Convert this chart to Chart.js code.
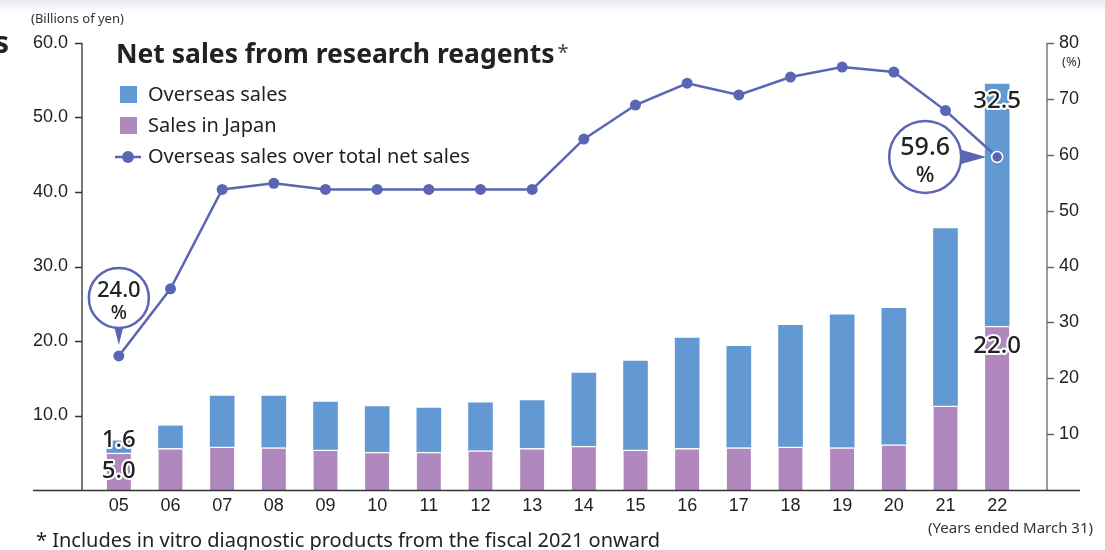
<!DOCTYPE html>
<html>
<head>
<meta charset="utf-8">
<title>Net sales from research reagents</title>
<script src="https://cdn.jsdelivr.net/npm/chart.js@4.4.0/dist/chart.umd.min.js"></script>
<style>
html, body { margin: 0; padding: 0; }
body { width: 1105px; height: 550px; overflow: hidden; background: linear-gradient(#ebebf3 0px, #ffffff 14px); }
canvas { display: block; }
</style>
</head>
<body>
<canvas id="salesChart" width="1105" height="550"></canvas>
<script>
// Fiscal years (years ended March 31)
const years = ['05', '06', '07', '08', '09', '10', '11', '12', '13', '14', '15', '16', '17', '18', '19', '20', '21', '22'];

// Billions of yen
const overseasSales = [1.6, 3.0, 6.8, 6.9, 6.4, 6.1, 5.9, 6.4, 6.4, 9.8, 11.9, 14.8, 13.6, 16.3, 17.8, 18.3, 23.8, 32.5];
const japanSales = [5.0, 5.6, 5.8, 5.7, 5.4, 5.1, 5.1, 5.3, 5.6, 5.9, 5.4, 5.6, 5.7, 5.8, 5.7, 6.1, 11.3, 22.0];

// Overseas share of net sales (%)
const overseasRatio = [24.0, 36.0, 53.8, 54.9, 53.8, 53.8, 53.8, 53.8, 53.8, 62.8, 68.9, 72.8, 70.7, 73.9, 75.7, 74.8, 67.9, 59.6];

const leftTicks = [0, 10, 20, 30, 40, 50, 60];
const rightTicks = [0, 10, 20, 30, 40, 50, 60, 70, 80];

const BLUE = '#6399d2';
const PURPLE = '#b088bd';
const LINE = '#5a66b4';
const INK = '#222222';
const FONT = '"Noto Sans", "Noto Sans CJK JP", sans-serif';

const last = years.length - 1;

function haloText(ctx, text, x, y) {
    ctx.lineJoin = 'round';
    ctx.strokeStyle = '#ffffff';
    ctx.lineWidth = 4;
    ctx.strokeText(text, x, y);
    ctx.fillStyle = INK;
    ctx.fillText(text, x, y);
}

// Round balloon with a triangular pointer aimed at (tipX, tipY)
function balloon(ctx, cx, cy, r, tipX, tipY, value, big, small, spread) {
    const ang = Math.atan2(tipY - cy, tipX - cx);
    ctx.fillStyle = LINE;
    ctx.beginPath();
    ctx.moveTo(cx + Math.cos(ang - spread) * (r - 1), cy + Math.sin(ang - spread) * (r - 1));
    ctx.lineTo(tipX, tipY);
    ctx.lineTo(cx + Math.cos(ang + spread) * (r - 1), cy + Math.sin(ang + spread) * (r - 1));
    ctx.closePath();
    ctx.fill();
    ctx.beginPath();
    ctx.arc(cx, cy, r, 0, Math.PI * 2);
    ctx.fillStyle = '#ffffff';
    ctx.fill();
    ctx.lineWidth = 2.5;
    ctx.strokeStyle = LINE;
    ctx.stroke();
    ctx.fillStyle = INK;
    ctx.textAlign = 'center';
    ctx.textBaseline = 'middle';
    ctx.font = '500 ' + big + 'px ' + FONT;
    ctx.fillText(value.toFixed(1), cx, cy - r * 0.24);
    ctx.font = '500 ' + small + 'px ' + FONT;
    ctx.fillText('%', cx, cy + r * 0.52);
}

const decor = {
    id: 'decor',
    afterDraw(chart) {
        const { ctx, chartArea: a, scales } = chart;
        const yL = scales.y, yR = scales.y1;
        const lx = a.left - 11, rx = a.right + 24;
        ctx.save();

        // axis lines and outer tick marks
        ctx.lineWidth = 1.3;
        ctx.strokeStyle = '#333';
        ctx.beginPath();
        ctx.moveTo(lx, yL.getPixelForValue(60));
        ctx.lineTo(lx, a.bottom);
        leftTicks.filter(v => v > 0).forEach(v => {
            const y = Math.round(yL.getPixelForValue(v)) + 0.5;
            ctx.moveTo(lx - 7, y);
            ctx.lineTo(lx, y);
        });
        ctx.moveTo(a.left - 60, a.bottom + 0.5);
        ctx.lineTo(a.right + 57, a.bottom + 0.5);
        ctx.stroke();

        ctx.strokeStyle = '#666';
        ctx.beginPath();
        ctx.moveTo(rx, yR.getPixelForValue(80));
        ctx.lineTo(rx, a.bottom);
        rightTicks.filter(v => v > 0).forEach(v => {
            const y = Math.round(yR.getPixelForValue(v)) + 0.5;
            ctx.moveTo(rx, y);
            ctx.lineTo(rx + 7, y);
        });
        ctx.stroke();

        // unit captions
        ctx.fillStyle = '#333';
        ctx.textBaseline = 'middle';
        ctx.textAlign = 'left';
        ctx.font = '13px ' + FONT;
        ctx.fillText('(Billions of yen)', 31, 19);
        ctx.font = '13px ' + FONT;
        ctx.fillText('(%)', 1062, 62);
        ctx.textAlign = 'right';
        ctx.font = '15px ' + FONT;
        ctx.fillText('(Years ended March 31)', 1093, 529);

        // footnote
        ctx.textAlign = 'left';
        ctx.fillStyle = INK;
        ctx.font = '20px ' + FONT;
        ctx.fillText('* Includes in vitro diagnostic products from the fiscal 2021 onward', 36, 541);

        // leftover heading glyph at the page edge
        ctx.textAlign = 'right';
        ctx.font = 'bold 30px ' + FONT;
        ctx.fillText('s', 9, 44);

        // title
        ctx.textAlign = 'left';
        ctx.textBaseline = 'alphabetic';
        ctx.font = 'bold 26.5px ' + FONT;
        const title = 'Net sales from research reagents';
        ctx.fillText(title, 116, 63);
        const tw = ctx.measureText(title).width;
        ctx.font = '20px ' + FONT;
        ctx.fillStyle = '#444';
        ctx.fillText('*', 116 + tw + 3, 59);

        // legend
        const ds = chart.data.datasets;
        ctx.font = '20px ' + FONT;
        ctx.textBaseline = 'middle';
        ctx.fillStyle = ds[1].backgroundColor;
        ctx.fillRect(120, 86, 17, 17);
        ctx.fillStyle = ds[0].backgroundColor;
        ctx.fillRect(120, 117, 17, 17);
        ctx.strokeStyle = LINE;
        ctx.lineWidth = 2.5;
        ctx.beginPath();
        ctx.moveTo(115, 157);
        ctx.lineTo(141, 157);
        ctx.stroke();
        ctx.fillStyle = LINE;
        ctx.beginPath();
        ctx.arc(128, 157, 6, 0, Math.PI * 2);
        ctx.fill();
        ctx.fillStyle = INK;
        ctx.fillText(ds[1].label, 148, 95);
        ctx.fillText(ds[0].label, 148, 126);
        ctx.fillText(ds[2].label, 148, 157);

        // value labels on the first and last bars
        const jp = chart.getDatasetMeta(0).data;
        const os = chart.getDatasetMeta(1).data;
        ctx.textAlign = 'center';
        ctx.font = '500 24px ' + FONT;
        haloText(ctx, overseasSales[0].toFixed(1), os[0].x, os[0].y - 1);
        haloText(ctx, japanSales[0].toFixed(1), jp[0].x, (jp[0].y + jp[0].base) / 2);
        haloText(ctx, overseasSales[last].toFixed(1), os[last].x, os[last].y + 17);
        haloText(ctx, japanSales[last].toFixed(1), jp[last].x, jp[last].y + 20);

        // balloons for the first and last ratio
        const pts = chart.getDatasetMeta(2).data;
        balloon(ctx, pts[0].x, pts[0].y - 58, 30, pts[0].x, pts[0].y - 11, overseasRatio[0], 22, 19, 0.16);
        balloon(ctx, pts[last].x - 72, pts[last].y, 36, pts[last].x - 11, pts[last].y, overseasRatio[last], 25, 22, 0.22);

        ctx.restore();
    }
};

const pointFill = years.map(() => LINE);
const pointEdge = years.map((_, i) => i === last ? '#ffffff' : LINE);

// fixed side widths, no extra label padding above/below the plot
const fitSide = w => s => { s.width = w; s.paddingTop = 0; s.paddingBottom = 0; };

const chart = new Chart(document.getElementById('salesChart'), {
    data: {
        labels: years,
        datasets: [
            {
                type: 'bar',
                label: 'Sales in Japan',
                data: japanSales,
                backgroundColor: PURPLE,
                borderColor: 'rgba(255,255,255,0.9)',
                borderWidth: { top: 1.5, left: 0, right: 0, bottom: 0 },
                borderSkipped: false,
                barThickness: 24,
                yAxisID: 'y',
                order: 2
            },
            {
                type: 'bar',
                label: 'Overseas sales',
                data: overseasSales,
                backgroundColor: BLUE,
                barThickness: 24,
                yAxisID: 'y',
                order: 2
            },
            {
                type: 'line',
                label: 'Overseas sales over total net sales',
                data: overseasRatio,
                borderColor: LINE,
                borderWidth: 2.5,
                pointRadius: 5.5,
                pointBackgroundColor: pointFill,
                pointBorderColor: pointEdge,
                pointBorderWidth: pointEdge.map(c => c === '#ffffff' ? 1.5 : 0),
                tension: 0,
                yAxisID: 'y1',
                order: 1
            }
        ]
    },
    options: {
        responsive: false,
        animation: false,
        layout: { padding: { top: 43, left: 0, right: 0, bottom: 0 } },
        plugins: {
            legend: { display: false },
            tooltip: { enabled: false }
        },
        scales: {
            x: {
                stacked: true,
                offset: true,
                grid: { display: false, drawTicks: false },
                border: { display: false },
                ticks: { color: INK, padding: 5, font: { family: '"Liberation Sans", Arial, sans-serif', size: 18 } },
                afterFit: s => { s.height = 60; s.paddingLeft = 0; s.paddingRight = 0; }
            },
            y: {
                stacked: true,
                position: 'left',
                min: 0,
                max: 60,
                grid: { display: false, drawTicks: false },
                border: { display: false },
                afterBuildTicks: s => { s.ticks = leftTicks.map(v => ({ value: v })); },
                ticks: {
                    color: INK,
                    padding: 25,
                    font: { family: '"Liberation Sans", Arial, sans-serif', size: 18 },
                    callback: v => v === 0 ? '' : v.toFixed(1)
                },
                afterFit: fitSide(93)
            },
            y1: {
                position: 'right',
                min: 0,
                max: 80,
                grid: { display: false, drawTicks: false },
                border: { display: false },
                afterBuildTicks: s => { s.ticks = rightTicks.map(v => ({ value: v })); },
                ticks: {
                    color: INK,
                    padding: 36,
                    font: { family: '"Liberation Sans", Arial, sans-serif', size: 18 },
                    callback: v => v === 0 ? '' : String(v)
                },
                afterFit: fitSide(82)
            }
        }
    },
    plugins: [decor]
});
</script>
</body>
</html>
